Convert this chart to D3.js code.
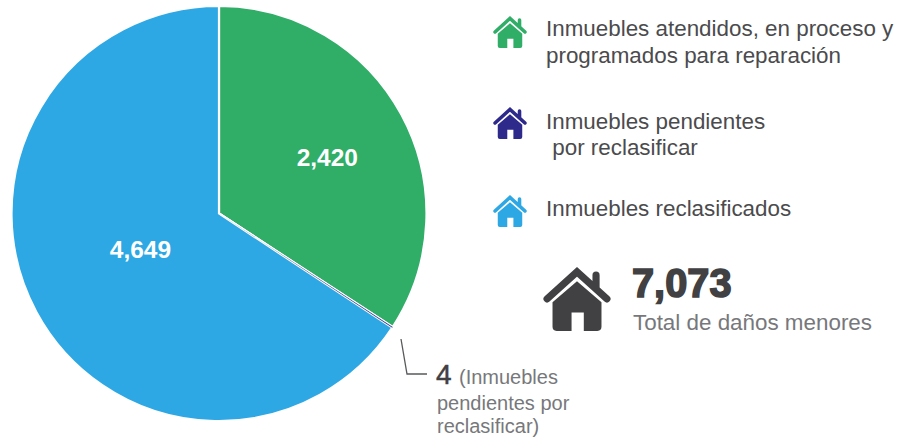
<!DOCTYPE html>
<head>
<meta charset="utf-8">
<style>
  html,body { margin:0; padding:0; background:#fff; overflow:hidden; }
  text { font-family:"Liberation Sans", Arial, sans-serif; }
</style>
<script src="https://d3js.org/d3.v7.min.js"></script>
</head>
<body>
<div id="chart"></div>
<script>
// data
const categories = ["Inmuebles atendidos", "Inmuebles pendientes por reclasificar", "Inmuebles reclasificados"];
const values = [2420, 4, 4649];
const colors = ["#30ad67", "#2e2a8c", "#2ea8e4"];
const legendLines = [
  ["Inmuebles atendidos, en proceso y", "programados para reparación"],
  ["Inmuebles pendientes", " por reclasificar"],
  ["Inmuebles reclasificados"]
];
const totalValue = 7073;
const totalLabel = "Total de daños menores";
const noteLines = ["(Inmuebles", "pendientes por", "reclasificar)"];

const width = 898, height = 440;
const cx = 219, cy = 213.5, radius = 207.5;

const svg = d3.select("#chart").append("svg")
  .attr("width", width)
  .attr("height", height);

// pie
const pie = d3.pie().sort(null).value(d => d)(values);
const arc = d3.arc().innerRadius(0).outerRadius(radius);

const g = svg.append("g").attr("transform", `translate(${cx},${cy})`);
g.selectAll("path")
  .data(pie)
  .enter()
  .append("path")
    .attr("d", arc)
    .style("fill", (d, i) => colors[i])
    .style("stroke", "#fff")
    .style("stroke-width", 2.2);

// the small slice is under a pixel wide, redraw it over the white edges
g.append("path")
  .attr("d", arc(pie[1]))
  .style("fill", colors[1]);

// slice labels, the small slice gets its note outside
const fmt = d3.format(",");
const labelRadius = [122, null, 87];
const labelShift = [[1, 3], null, [-2, -5]];
pie.forEach((d, i) => {
  if (labelRadius[i] == null) return;
  const c = d3.arc().innerRadius(labelRadius[i]).outerRadius(labelRadius[i]).centroid(d);
  g.append("text")
    .attr("x", c[0] + labelShift[i][0])
    .attr("y", c[1] + 8 + labelShift[i][1])
    .attr("text-anchor", "middle")
    .attr("font-size", 24.5)
    .attr("font-weight", "bold")
    .attr("fill", "#fff")
    .text(fmt(d.data));
});

// house icon, drawn in a 100 wide box
const drawHouse = (x, y, size, color) => {
  const k = size / 100;
  const h = svg.append("g").attr("transform", `translate(${x},${y}) scale(${k})`);
  h.append("path")
    .attr("d", "M50 21 L86 52 L86 88 Q86 94 80 94 L60 94 L60 67 L42 67 L42 94 L20 94 Q14 94 14 88 L14 52 Z")
    .attr("fill", color);
  h.append("path")
    .attr("d", "M6 47 L50 7 L94 47 M78 31 L78 12")
    .attr("fill", "none")
    .attr("stroke", color)
    .attr("stroke-width", 10.5)
    .attr("stroke-linecap", "round")
    .attr("stroke-linejoin", "miter");
};

// legend
const legendIconY = [16, 107, 195];
const legendTextY = [36, 63, 129, 155, 216];
let line = 0;
legendLines.forEach((lines, i) => {
  drawHouse(493, legendIconY[i], 34, colors[i]);
  lines.forEach(t => {
    svg.append("text")
      .attr("x", 546)
      .attr("y", legendTextY[line++])
      .attr("font-size", 22.4)
      .attr("fill", "#4b4b4d")
      .style("white-space", "pre")
      .text(t);
  });
});

// total, the original face is a heavy condensed one
drawHouse(543, 267, 68, "#414042");
svg.append("text")
  .attr("transform", "translate(632,297) scale(0.97,1)")
  .attr("font-size", 41)
  .attr("font-weight", "bold")
  .style("font-family", "'Liberation Sans Narrow', 'Liberation Sans', sans-serif")
  .attr("fill", "#414042")
  .attr("stroke", "#414042")
  .attr("stroke-width", 1.6)
  .text(fmt(totalValue));
svg.append("text")
  .attr("x", 633)
  .attr("y", 330)
  .attr("font-size", 22.4)
  .attr("fill", "#77787b")
  .text(totalLabel);

// leader and note for the small slice
svg.append("path")
  .attr("d", d3.line()([[401, 339], [407, 374], [427, 374]]))
  .attr("fill", "none")
  .attr("stroke", "#58595b")
  .attr("stroke-width", 1.3);
svg.append("text")
  .attr("x", 436)
  .attr("y", 384)
  .attr("font-size", 28)
  .attr("fill", "#414042")
  .attr("stroke", "#414042")
  .attr("stroke-width", 0.5)
  .text(values[1]);
const noteX = [459, 437, 437];
const noteY = [384, 410, 433];
noteLines.forEach((t, i) => {
  svg.append("text")
    .attr("x", noteX[i])
    .attr("y", noteY[i])
    .attr("font-size", 20)
    .attr("fill", "#77787b")
    .text(t);
});
</script>
</body>
</html>
